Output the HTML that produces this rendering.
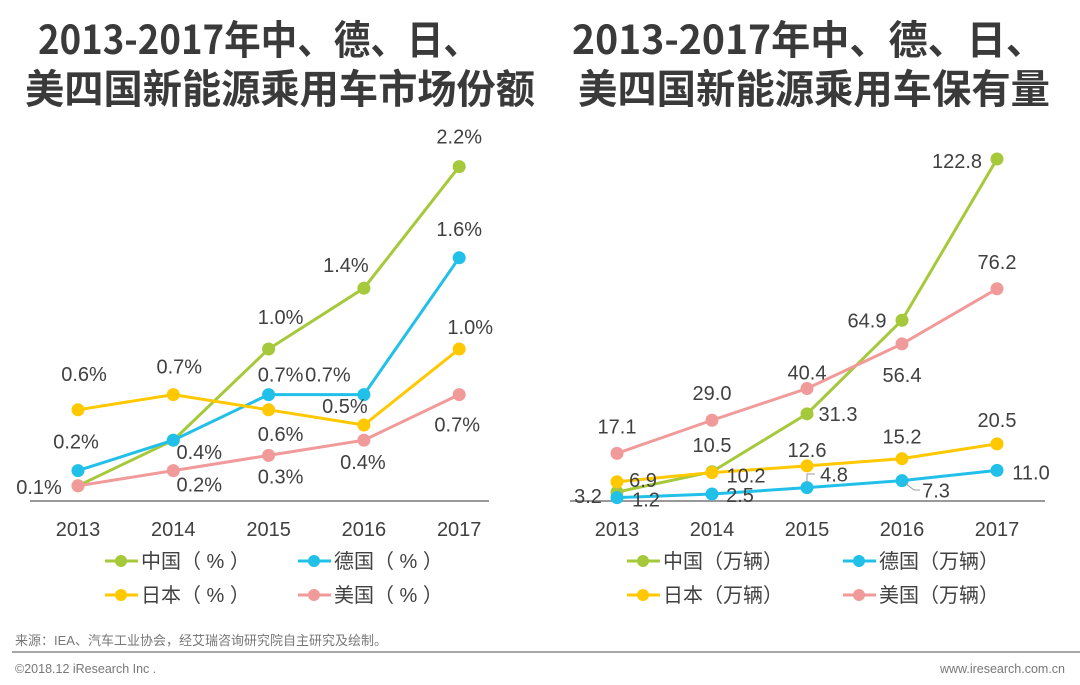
<!DOCTYPE html>
<html><head><meta charset="utf-8"><style>
html,body{margin:0;padding:0;background:#fff;}
svg{display:block;font-family:"Liberation Sans","Noto Sans CJK SC",sans-serif;}
</style></head><body>
<svg id="svg" width="1080" height="685" viewBox="0 0 1080 685">
<g fill="#3a3a3a" font-weight="bold" font-size="40" font-family="'Noto Sans CJK SC',sans-serif">
<text x="38" y="54" textLength="442" lengthAdjust="spacingAndGlyphs">2013-2017年中、德、日、</text>
<text x="25" y="103" textLength="510" lengthAdjust="spacingAndGlyphs">美四国新能源乘用车市场份额</text>
<text x="572" y="54" textLength="473" lengthAdjust="spacingAndGlyphs">2013-2017年中、德、日、</text>
<text x="578" y="103" textLength="472" lengthAdjust="spacingAndGlyphs">美四国新能源乘用车保有量</text>
</g>
<g id="left"></g>
<g id="right"></g>
<path d="M807,483 V474 H815 M905,483 L914,490 H920" fill="none" stroke="#999" stroke-width="1"/>
<text x="15" y="645" font-size="13" fill="#777">来源：IEA、汽车工业协会，经艾瑞咨询研究院自主研究及绘制。</text>
<line x1="12" y1="652" x2="1080" y2="652" stroke="#888" stroke-width="1.5"/>
<text x="15" y="673" font-size="12.5" fill="#777">©2018.12 iResearch Inc .</text>
<text x="1065" y="673" font-size="12.5" fill="#777" text-anchor="end">www.iresearch.com.cn</text>
</svg>
<script>
const years = ["2013","2014","2015","2016","2017"];
const seriesNames = ["中国","德国","日本","美国"];
const colors = ["#a5c93a","#21c0e8","#ffc800","#f19a9a"];
const shareChina = [0.1,0.4,1.0,1.4,2.2];
const shareGermany = [0.2,0.4,0.7,0.7,1.6];
const shareJapan = [0.6,0.7,0.6,0.5,1.0];
const shareUS = [0.1,0.2,0.3,0.4,0.7];
const stockChina = [3.2,10.5,31.3,64.9,122.8];
const stockGermany = [1.2,2.5,4.8,7.3,11.0];
const stockJapan = [6.9,10.2,12.6,15.2,20.5];
const stockUS = [17.1,29.0,40.4,56.4,76.2];

const NS="http://www.w3.org/2000/svg";
function mk(tag,attrs,parent){const e=document.createElementNS(NS,tag);for(const k in attrs)e.setAttribute(k,attrs[k]);parent.appendChild(e);return e;}

const leftOff=[
 [[-39,1],[26,12],[12,-32],[-18,-23],[0,-30]],
 [[-2,-29],null,[12,-20],[-36,-20],[0,-29]],
 [[6,-36],[6,-28],[12,24],[-19,-19],[11,-22]],
 [null,[26,14],[12,21],[-1,22],[-2,30]]];
const rightOff=[
 [[-29,4],[0,-27],[31,0],[-35,0],[-40,2]],
 [[29,2],[28,1],[27,-13],[34,10],[34,2]],
 [[26,-2],[34,3],[0,-16],[0,-22],[0,-24]],
 [[0,-27],[0,-27],[0,-16],[0,31],[0,-27]]];

function draw(gid,xs,y0,k,x1,x2,data,fmt,offs,unit,legX){
  const g=document.getElementById(gid);
  const X=i=>xs[0]+i*(xs[1]-xs[0]);
  const Y=v=>y0-v*k;
  const ax=mk('line',{x1:x1,x2:x2,y1:y0,y2:y0,stroke:'#999','stroke-width':2},g);
  
  
  years.forEach((yr,i)=>{
    const t=mk('text',{x:X(i),y:y0+35,'text-anchor':'middle','font-size':20,fill:'#404040'},g);
    t.textContent=yr;
    
    
  });
  data.forEach((arr,s)=>{
    const pl=mk('polyline',{points:arr.map((v,i)=>X(i)+','+Y(v)).join(' '),fill:'none',stroke:colors[s],'stroke-width':3},g);
    
    
    arr.forEach((v,i)=>{
      const c=mk('circle',{cx:X(i),cy:Y(v),r:6.5,fill:colors[s]},g);
      
      
      const o=offs[s][i];
      if(o){
        const t=mk('text',{x:X(i)+o[0],y:Y(v)+o[1]+7,'text-anchor':'middle','font-size':20,fill:'#404040'},g);
        t.textContent=fmt(v);
        
        
      }
    });
  });
  seriesNames.forEach((n,s)=>{
    const bx=legX[s%2], by=561+Math.floor(s/2)*34;
    const l=mk('line',{x1:bx,x2:bx+33,y1:by,y2:by,stroke:colors[s],'stroke-width':3},g);
    
    
    const c=mk('circle',{cx:bx+16,cy:by,r:6,fill:colors[s]},g);
    
    
    const t=mk('text',{x:bx+36,y:by+7,'font-size':20,fill:'#404040'},g);
    t.textContent=n+'（'+unit+'）';
    
    
  });
}
draw('left',[78,173.3],501,152,30,489,[shareChina,shareGermany,shareJapan,shareUS],v=>v.toFixed(1)+'%',leftOff,' % ',[105,298]);
draw('right',[617,712],501,2.785,570,1045,[stockChina,stockGermany,stockJapan,stockUS],v=>v.toFixed(1),rightOff,'万辆',[627,843]);
</script>
</body></html>
